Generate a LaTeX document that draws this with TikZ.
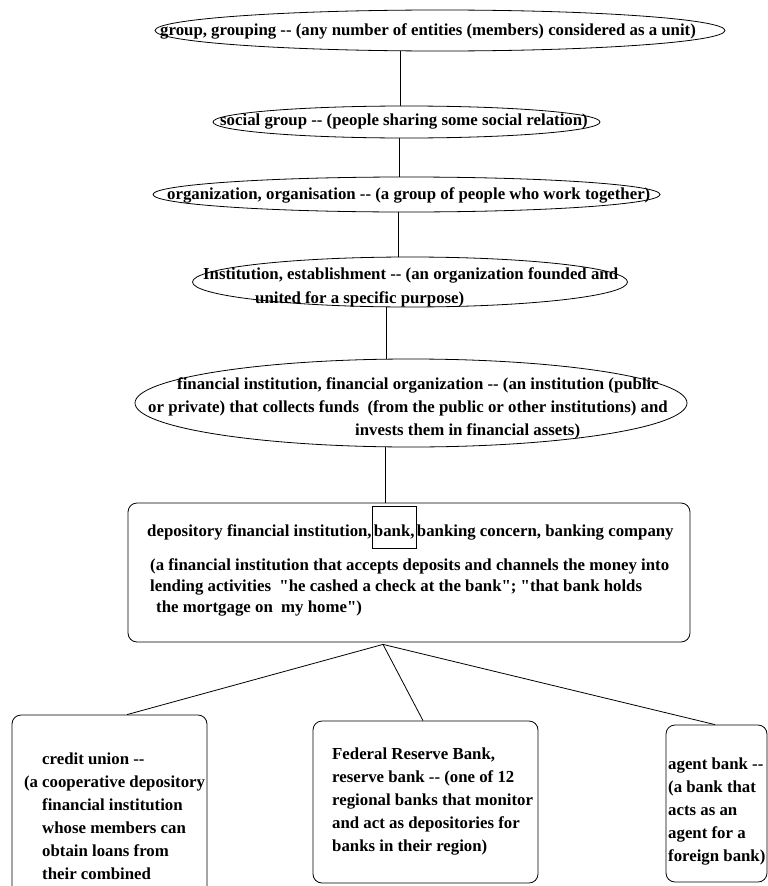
\documentclass[tikz,border=0pt]{standalone}
\usepackage{fontspec}
\setmainfont{Liberation Serif}[Ligatures=TeXOff]
\usepackage{tikz}
\usetikzlibrary{shapes}

\setlength{\fboxsep}{1.5pt}
\setlength{\fboxrule}{0.8pt}

\begin{document}
\begin{tikzpicture}[x=1pt, y=-1pt]

\tikzstyle{sense} = [ellipse, draw=black, line width=0.8pt, inner sep=0pt]
\tikzstyle{synset} = [rectangle, rounded corners=9pt, draw=black, line width=0.8pt, inner sep=0pt]
\tikzstyle{gloss} = [font=\fontsize{16.8}{23}\selectfont\bfseries, align=left, inner sep=0pt, anchor=west]
\tikzstyle{link} = [line width=0.8pt]

\useasboundingbox (0,0) rectangle (768,886);
\clip (0,0) rectangle (768,886);

% hypernyms
\node (group) [sense, minimum width=570pt, minimum height=41pt] at (440,30.5) {};
\node (grouptext) [gloss] at (160,31) {group, grouping -- (any number of entities (members) considered as a unit)};

\node (social) [sense, minimum width=387pt, minimum height=32pt] at (406.5,122) {};
\node (socialtext) [gloss] at (220,122) {social group -- (people sharing some social relation)};

\node (organization) [sense, minimum width=507pt, minimum height=35pt] at (406.5,194.5) {};
\node (orgtext) [gloss] at (167,195) {organization, organisation -- (a group of people who work together)};

\node (institution) [sense, minimum width=435pt, minimum height=50pt] at (410,282) {};
\node (insttext) [gloss, font=\fontsize{16.8}{24}\selectfont\bfseries] at (203,287) {Institution, establishment -- (an organization founded and\\
\hspace{52pt}united for a specific purpose)};

\node (financial) [sense, minimum width=552pt, minimum height=88pt] at (411,403) {};
\node (fintext) [gloss] at (148,408) {\hspace{29pt}financial institution, financial organization -- (an institution (public\\
or private) that collects funds\ \ (from the public or other institutions) and\\
\hspace{207pt}invests them in financial assets)};

% the synset
\node (bank) [synset, minimum width=562pt, minimum height=139pt] at (409,572.5) {};
\node (banktext) [gloss, font=\fontsize{16.8}{21}\selectfont\bfseries] at (147,570) {depository financial institution,\smash{\fbox{\rule[-10.5pt]{0pt}{38pt}bank,}}banking concern, banking company\\[13pt]
\hspace{3pt}(a financial institution that accepts deposits and channels the money into\\
\hspace{3pt}lending activities\ \ "he cashed a check at the bank"; "that bank holds\\
\hspace{9pt}the mortgage on\ \ my home")};

% hyponyms
\node (credit) [synset, minimum width=195pt, minimum height=190pt] at (109.5,810) {};
\node (credittext) [gloss] at (42,816) {credit union --\\
\llap{(a\ }cooperative depository\\
financial institution\\
whose members can\\
obtain loans from\\
their combined};

\node (federal) [synset, minimum width=225pt, minimum height=162pt] at (425.5,802) {};
\node (federaltext) [gloss] at (332,802) {Federal Reserve Bank,\\
reserve bank -- (one of 12\\
regional banks that monitor\\
and act as depositories for\\
banks in their region)};

\node (agent) [synset, minimum width=101pt, minimum height=157pt] at (716.5,803.5) {};
\node (agenttext) [gloss] at (668,812) {agent bank --\\
(a bank that\\
acts as an\\
agent for a\\
foreign bank)};

\coordinate (fork) at ([xshift=-26pt,yshift=-2pt]bank.south);

\draw [link] ([xshift=-40pt]group.south) -- ([xshift=-6.5pt]social.north);
\draw [link] ([xshift=-7.5pt]social.south) -- ([xshift=-7.5pt]organization.north);
\draw [link] ([xshift=-8.5pt]organization.south) -- ([xshift=-12pt]institution.north);
\draw [link] ([xshift=-24pt]institution.south) -- ([xshift=-25pt]financial.north);
\draw [link] ([xshift=-26pt]financial.south) -- ([xshift=-24pt]bank.north);
\draw [link] (fork) -- ([xshift=17.5pt]credit.north);
\draw [link] (fork) -- ([xshift=-2.5pt]federal.north);
\draw [link] (fork) -- ([xshift=-1.5pt]agent.north);

\end{tikzpicture}
\end{document}
